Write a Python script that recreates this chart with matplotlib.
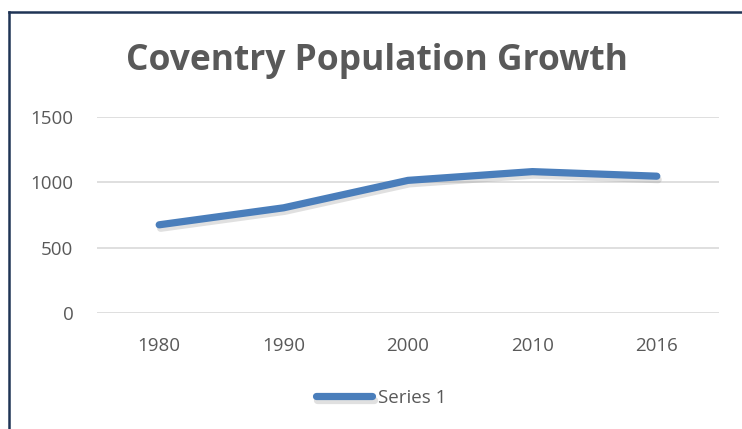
import matplotlib.pyplot as plt
import matplotlib.patheffects as pe
from matplotlib.lines import Line2D

years = ["1980", "1990", "2000", "2010", "2016"]
population = [675, 805, 1015, 1082, 1047]
yticks = [0, 500, 1000, 1500]

W, H = 742, 429
plt.rcParams["font.family"] = ["Open Sans", "DejaVu Sans"]

fig = plt.figure(figsize=(W / 100, H / 100), dpi=100)
ax = fig.add_axes([97 / W, (H - 313) / H, (719 - 97) / W, (313 - 117) / H])

x = range(len(years))
ax.plot(x, population, color="#4A7EBB", lw=5.2, solid_capstyle="round",
        solid_joinstyle="round", label="Series 1",
        path_effects=[pe.SimpleLineShadow(offset=(1, -2.5), shadow_color="#999999", alpha=0.3),
                      pe.Normal()])

ax.set_xlim(-0.5, len(years) - 0.5)
ax.set_ylim(0, 1500)
ax.set_xticks(list(x))
ax.set_xticklabels(years)
ax.set_yticks(yticks)
ax.tick_params(length=0, labelsize=13.5, colors="#595959")
ax.tick_params(axis="x", pad=17)
ax.tick_params(axis="y", pad=17)
for s in ax.spines.values():
    s.set_visible(False)
ax.grid(axis="y", color="#D9D9D9", lw=1.2)
ax.set_axisbelow(True)

fig.text(377 / W, 1 - 61 / H, "Coventry Population Growth", ha="center", va="center",
         fontsize=25.5, fontweight="bold", color="#595959")

leg = fig.legend(loc="center", bbox_to_anchor=(381 / W, 1 - 398 / H), frameon=False,
                 fontsize=13.5, handlelength=3.0, handletextpad=0.3)
for t in leg.get_texts():
    t.set_color("#595959")

# chart border (top and left visible)
fig.add_artist(Line2D([9 / W, 1], [1 - 12 / H, 1 - 12 / H], color="#1F3455", lw=1.8))
fig.add_artist(Line2D([9 / W, 9 / W], [0, 1 - 12 / H], color="#1F3455", lw=1.8))

fig.savefig("out.png", dpi=100)
